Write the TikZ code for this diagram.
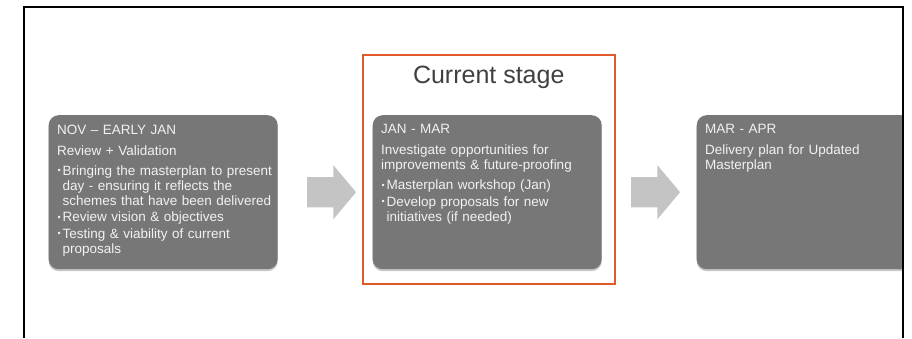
\documentclass[tikz,border=0pt]{standalone}
\usepackage{fontspec}
\setmainfont{Liberation Sans}
\usetikzlibrary{calc,shapes.arrows,shadows}

\definecolor{stagegrey}{HTML}{777777}
\definecolor{arrowgrey}{HTML}{C4C4C4}
\definecolor{nowred}{HTML}{E05A2B}
\definecolor{titlegrey}{HTML}{404040}

% one bullet point, later lines hang under the text
\newcommand{\itm}[1]{\hangindent=5.4pt\hangafter=1\noindent\makebox[5.4pt][l]{\hspace{0.3pt}\raisebox{1.6pt}{\fontsize{9}{9}\selectfont\textbullet}}#1\par}

\tikzset{
    stagebox/.style={fill=stagegrey, rounded corners=10pt, anchor=north west,
        minimum width=229pt, minimum height=154pt, inner sep=0pt,
        drop shadow={shadow xshift=0pt, shadow yshift=-2pt, fill=black!22, opacity=1}},
    stagetext/.style={anchor=north west, inner sep=0pt, text width=220pt, align=left,
        text=white!95!black, font=\fontsize{13.5}{15}\selectfont},
    blockarrow/.style={single arrow, fill=arrowgrey, minimum height=49pt,
        single arrow head extend=12pt, single arrow tip angle=100,
        inner xsep=0pt, inner ysep=15pt},
    nowframe/.style={draw=nowred, line width=2pt, anchor=north west,
        minimum width=252.5pt, minimum height=229pt, inner sep=0pt},
    titletext/.style={text=titlegrey, font=\fontsize{25}{29}\selectfont, inner sep=0pt}
}

\begin{document}
\begin{tikzpicture}[x=1pt, y=-1pt]
    \useasboundingbox (0,0) rectangle (912,338);

    % the current stage
    \node[nowframe] (now) at (361.5,54) {};
    \node[titletext, anchor=base] (curtitle) at ([shift={(0,29)}]now.north) {Current stage};

    % the stages
    \node[stagebox] (nov) at (48.5,115) {};
    \node[stagebox] (jan) at (372.5,115) {};
    \begin{scope}
        \clip (0,0) rectangle (902,338);
        \node[stagebox] (mar) at (696.5,115) {};
    \end{scope}

    % the arrows
    \foreach \a/\b in {nov/jan, jan/mar} {
        \node[blockarrow] (arr-\a) at ($(\a.east)!0.5!(\b.west)$) {};
    }

    % texts
    \node[stagetext] (novtxt) at ([shift={(8.5,9.5)}]nov.north west) {%
        NOV – EARLY JAN\par\vspace{6pt}
        Review + Validation\par\vspace{5pt}
        \itm{Bringing the masterplan to present\newline day - ensuring it reflects the\newline schemes that have been delivered}\vspace{1.5pt}
        \itm{Review vision \& objectives}\vspace{1.5pt}
        \itm{Testing \& viability of current\newline proposals}};
    \node[stagetext] (jantxt) at ([shift={(8.5,9.5)}]jan.north west) {%
        JAN - MAR\par\vspace{6pt}
        Investigate opportunities for\newline improvements \& future-proofing\par\vspace{5pt}
        \itm{Masterplan workshop (Jan)}\vspace{1.5pt}
        \itm{Develop proposals for new\newline initiatives (if needed)}};
    \node[stagetext] (martxt) at ([shift={(8.5,9.5)}]mar.north west) {%
        MAR - APR\par\vspace{6pt}
        Delivery plan for Updated\newline Masterplan};

    % the frame
    \draw[line width=2pt] (24,338) -- (24,7) -- (903,7) -- (903,338);
\end{tikzpicture}
\end{document}
